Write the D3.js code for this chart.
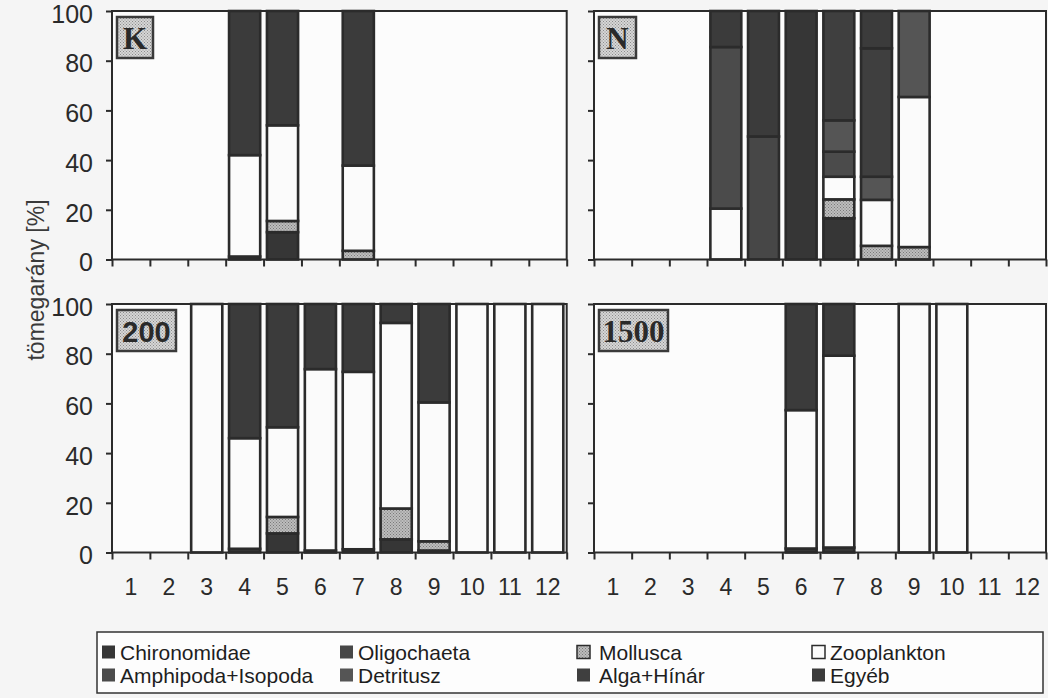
<!DOCTYPE html>
<html>
<head>
<meta charset="utf-8">
<script src="https://cdn.jsdelivr.net/npm/d3@7"></script>
<style>
  body { margin: 0; background: #f5f5f5; }
  svg { display: block; }
  .tick text { font-family: "Liberation Sans", Arial, sans-serif; fill: #2a2a2a; }
  .legend text { font-family: "Liberation Sans", Arial, sans-serif; font-size: 21px; fill: #1e1e1e; }
</style>
</head>
<body>
<svg id="chart" width="1048" height="698"></svg>
<script>
// months on the x axis
const months = ['1', '2', '3', '4', '5', '6', '7', '8', '9', '10', '11', '12']
// food categories, bottom to top of each stack
const categories = ['Chironomidae', 'Oligochaeta', 'Mollusca', 'Zooplankton',
                    'Amphipoda+Isopoda', 'Detritusz', 'Alga+Hínár', 'Egyéb']
const yTicks = [0, 20, 40, 60, 80, 100]
const panelNames = ['K', 'N', '200', '1500']

// mass share [%] per month, one value per category (null = no sample)
const panelK = [
  null, null, null,
  [1.2, 0, 0, 40.8, 0, 0, 0, 58],
  [11, 0, 4.5, 38.5, 0, 0, 0, 46],
  null,
  [0, 0, 3.5, 34.3, 0, 0, 0, 62.2],
  null, null, null, null, null
]
const panelN = [
  null, null, null,
  [0, 0, 0, 20.5, 65, 0, 0, 14.5],
  [0, 49.5, 0, 0, 0, 0, 0, 50.5],
  [100, 0, 0, 0, 0, 0, 0, 0],
  [16.6, 0, 7.6, 9.1, 10.1, 12.6, 44, 0],
  [0, 0, 5.5, 18.5, 0, 9.3, 51.7, 15],
  [0, 0, 5, 60.4, 0, 34.6, 0, 0],
  null, null, null
]
const panel200 = [
  null, null,
  [0, 0, 0, 100, 0, 0, 0, 0],
  [1.5, 0, 0, 44.5, 0, 0, 0, 54],
  [7.7, 0, 6.6, 36.1, 0, 0, 0, 49.6],
  [0.8, 0, 0, 73, 0, 0, 0, 26.2],
  [1.3, 0, 0, 71.4, 0, 0, 0, 27.3],
  [5.3, 0, 12.4, 74.7, 0, 0, 0, 7.6],
  [0.8, 0, 3.7, 55.9, 0, 0, 0, 39.6],
  [0, 0, 0, 100, 0, 0, 0, 0],
  [0, 0, 0, 100, 0, 0, 0, 0],
  [0, 0, 0, 100, 0, 0, 0, 0]
]
const panel1500 = [
  null, null, null, null, null,
  [1.6, 0, 0, 55.7, 0, 0, 0, 42.7],
  [2, 0, 0, 77.2, 0, 0, 0, 20.8],
  null,
  [0, 0, 0, 100, 0, 0, 0, 0],
  [0, 0, 0, 100, 0, 0, 0, 0],
  null, null
]

const fills = ['#363636', '#474747', 'url(#stipple)', '#fbfbfb',
               '#4b4b4b', '#555555', '#3f3f3f', '#3b3b3b']
const ink = '#2b2b2b'

const svg = d3.select('#chart')
const defs = svg.append('defs')

// stippled grey used for Mollusca and the panel labels
function addStipple(id, base, dot) {
  const p = defs.append('pattern')
    .attr('id', id).attr('width', 3).attr('height', 3)
    .attr('patternUnits', 'userSpaceOnUse')
  p.append('rect').attr('width', 3).attr('height', 3).attr('fill', base)
  p.append('rect').attr('width', 1).attr('height', 1).attr('fill', dot)
  p.append('rect').attr('x', 1.5).attr('y', 1.5).attr('width', 1).attr('height', 1).attr('fill', dot)
}
addStipple('stipple', '#bdbdbd', '#7a7a7a')
addStipple('labelStipple', '#d6d6d6', '#8c8c8c')

const cols = [[112, 566.7], [594, 1046]]
const rows = [[11, 259.5], [304, 552.5]]
const panels = [
  { name: panelNames[0], data: panelK, col: 0, row: 0, serif: true, box: 36 },
  { name: panelNames[1], data: panelN, col: 1, row: 0, serif: true, box: 37 },
  { name: panelNames[2], data: panel200, col: 0, row: 1, serif: false, box: 59 },
  { name: panelNames[3], data: panel1500, col: 1, row: 1, serif: true, box: 69 }
]

const stack = d3.stack()
  .keys(d3.range(categories.length))
  .value((d, k) => d.vals[k])

function drawPanel(p) {
  const [x0, x1] = cols[p.col]
  const [yTop, yBot] = rows[p.row]
  const x = d3.scaleBand().domain(months).range([x0, x1]).paddingInner(0.11).paddingOuter(0.055)
  const xEdge = d3.scaleLinear().domain([0, 12]).range([x0, x1])
  const y = d3.scaleLinear().domain([0, 100]).range([yBot, yTop])
  const g = svg.append('g')

  g.append('rect')
    .attr('x', x0).attr('y', yTop).attr('width', x1 - x0).attr('height', yBot - yTop)
    .attr('fill', '#fcfcfc')

  const rowsIn = p.data
    .map((v, i) => ({ month: months[i], vals: v }))
    .filter(d => d.vals)
  const series = stack(rowsIn)
  const sw = 2.6

  series.forEach((s, k) => {
    g.selectAll(null)
      .data(s.filter(d => d[1] - d[0] > 0))
      .enter().append('rect')
      .attr('x', d => x(d.data.month) + sw / 2)
      .attr('width', x.bandwidth() - sw)
      .attr('y', d => y(d[1]))
      .attr('height', d => y(d[0]) - y(d[1]))
      .attr('fill', fills[k])
      .attr('stroke', ink)
      .attr('stroke-width', sw)
  })

  // frame
  g.append('rect')
    .attr('x', x0).attr('y', yTop).attr('width', x1 - x0).attr('height', yBot - yTop)
    .attr('fill', 'none').attr('stroke', ink).attr('stroke-width', 2)

  const yAxis = g.append('g')
    .attr('transform', 'translate(' + x0 + ',0)')
    .call(d3.axisLeft(y).tickValues(yTicks).tickSize(6).tickPadding(13)
      .tickFormat(p.col === 0 ? d3.format('d') : ''))
  yAxis.select('.domain').remove()
  yAxis.selectAll('line').attr('stroke', ink).attr('stroke-width', 2)
  yAxis.selectAll('text').style('font-size', '25px').attr('dy', '0.45em')

  const xTicks = g.append('g')
    .attr('transform', 'translate(0,' + yBot + ')')
    .call(d3.axisBottom(xEdge).tickValues(d3.range(13)).tickSize(7).tickFormat(''))
  xTicks.select('.domain').remove()
  xTicks.selectAll('line').attr('stroke', ink).attr('stroke-width', 2)

  if (p.row === 1) {
    const xLab = g.append('g')
      .attr('transform', 'translate(0,' + yBot + ')')
      .call(d3.axisBottom(x).tickSize(0).tickPadding(26))
    xLab.select('.domain').remove()
    xLab.selectAll('text').style('font-size', '23px')
  }

  // panel label box
  const bx = x0 + 5, by = yTop + 6, bh = 41
  g.append('rect')
    .attr('x', bx).attr('y', by).attr('width', p.box).attr('height', bh)
    .attr('fill', 'url(#labelStipple)').attr('stroke', '#3a3a3a').attr('stroke-width', 2.5)
  g.append('text')
    .attr('x', bx + p.box / 2).attr('y', by + bh / 2 + 1)
    .attr('text-anchor', 'middle').attr('dominant-baseline', 'central')
    .style('font-family', p.serif ? '"Liberation Serif", "Times New Roman", serif' : '"Liberation Sans", Arial, sans-serif')
    .style('font-weight', 'bold')
    .style('font-size', p.serif ? '31px' : '29px')
    .attr('fill', '#2a2a2a')
    .text(p.name)
}

panels.forEach(drawPanel)

svg.append('text')
  .attr('transform', 'translate(36,280) rotate(-90)')
  .attr('text-anchor', 'middle').attr('dominant-baseline', 'central')
  .style('font-family', '"Liberation Sans", Arial, sans-serif')
  .style('font-size', '23px').attr('fill', '#3a3a3a')
  .text('tömegarány [%]')

// legend, laid out in two rows of four
const legend = svg.append('g').attr('class', 'legend')
legend.append('rect')
  .attr('x', 97).attr('y', 632).attr('width', 946).attr('height', 61)
  .attr('fill', '#fdfdfd').attr('stroke', '#333').attr('stroke-width', 1.5)

const swatchX = [102, 340, 577, 812]
const textX = [120, 358, 599, 830]
const rowY = [652, 675]

const items = legend.selectAll('.item')
  .data(categories.map((c, i) => ({ name: c, i: i, col: i % 4, row: Math.floor(i / 4) })))
  .enter().append('g').attr('class', 'item')

items.append('rect')
  .attr('x', d => swatchX[d.col]).attr('y', d => rowY[d.row] - 6.5)
  .attr('width', 13).attr('height', 13)
  .attr('fill', d => fills[d.i])
  .attr('stroke', d => (d.i === 2 || d.i === 3) ? ink : 'none')
  .attr('stroke-width', 1.5)

items.append('text')
  .attr('x', d => textX[d.col]).attr('y', d => rowY[d.row])
  .attr('dominant-baseline', 'central')
  .text(d => d.name)
</script>
</body>
</html>
